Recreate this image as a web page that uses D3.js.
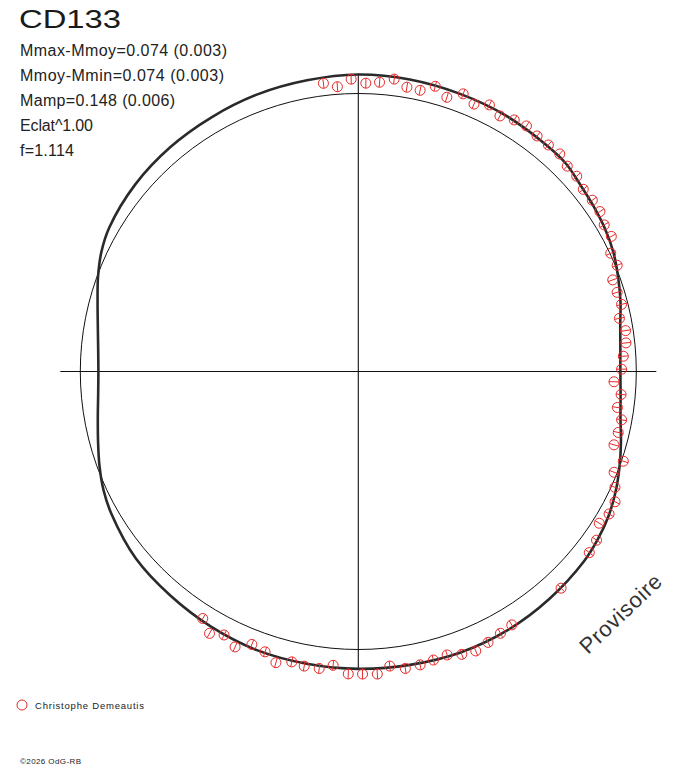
<!DOCTYPE html>
<html>
<head>
<meta charset="utf-8">
<script src="https://cdn.jsdelivr.net/npm/d3@7"></script>
<style>
  body { margin: 0; background: #fff; }
  svg { display: block; font-family: "Liberation Sans", Arial, sans-serif; }
</style>
</head>
<body>
<div id="chart"></div>
<script>
// DATA ------------------------------
const starName = "CD133";
const infoLines = ["Mmax-Mmoy=0.074 (0.003)", "Mmoy-Mmin=0.074 (0.003)", "Mamp=0.148 (0.006)", "Eclat^1.00", "f=1.114"];
const observer = "Christophe Demeautis";
const copyright = "©2026 OdG-RB";
const stamp = "Provisoire";

// fitted light curve: phase (degrees, clockwise from top) and magnitude minus mean
const curvePhaseDeg = [0, 10, 20, 30, 40, 45, 50, 55, 60, 65, 70, 75, 80, 85, 90, 95, 100, 105, 110, 115, 120, 125, 130,
  140, 150, 160, 170, 180, 190, 200, 210, 220, 230, 240, 245, 250, 255, 260, 265, 270, 275, 280, 285, 290, 295, 300,
  310, 320, 330, 340, 350];
const curveMag = [-0.072, -0.070, -0.067, -0.066, -0.062, -0.060, -0.046, -0.0365, -0.027, -0.0136, 0.006, 0.026, 0.048, 0.060, 0.064, 0.059, 0.047, 0.024, 0.000, -0.023, -0.042, -0.055, -0.064,
  -0.072, -0.078, -0.079, -0.075, -0.073, -0.071, -0.070, -0.063, -0.055, -0.048, -0.027, -0.012, 0.010, 0.034, 0.054, 0.068, 0.073, 0.068, 0.054, 0.032, 0.004, -0.021, -0.037,
  -0.050, -0.056, -0.059, -0.064, -0.067];

// observations
const obsPhaseDeg = [353.1, 355.8, 358.6, 1.5, 4.2, 7.0, 9.7, 12.4, 15.1, 17.9, 20.7, 23.4, 26.2, 29.0, 31.8, 34.4, 37.2, 40.0,
  42.8, 45.5, 48.2, 51.0, 53.8, 56.5, 59.2, 61.9, 64.9, 67.7, 70.2, 73.0, 75.7, 78.5, 81.3, 83.9, 86.7, 89.5,
  92.3, 95.0, 97.9, 100.4, 103.2, 106.0, 108.7, 111.5, 114.3, 116.9, 119.6, 122.2, 125.3, 128.1, 136.9,
  148.8, 151.5, 154.4, 157.2, 159.9, 162.6, 165.4, 168.1, 171.0, 173.9, 176.4, 179.2, 181.9, 184.9, 187.5,
  190.4, 192.9, 195.8, 198.4, 201.3, 204.1, 207.0, 209.6, 212.2];
const obsMag = [-0.047, -0.029, -0.055, -0.040, -0.046, -0.063, -0.040, -0.038, -0.066, -0.039, -0.071, -0.051, -0.072, -0.054, -0.068, -0.074, -0.067, -0.067,
  -0.070, -0.057, -0.057, -0.044, -0.046, -0.045, -0.032, -0.034, -0.003, -0.007, 0.030, 0.029, 0.025, 0.046, 0.030, 0.035, 0.050, 0.059,
  0.090, 0.057, 0.066, 0.041, 0.044, 0.048, -0.007, 0.012, -0.014, -0.038, -0.040, -0.026, -0.053, -0.059, -0.071,
  -0.069, -0.075, -0.084, -0.094, -0.087, -0.072, -0.076, -0.082, -0.085, -0.069, -0.094, -0.092, -0.092, -0.064, -0.081,
  -0.081, -0.075, -0.092, -0.066, -0.057, -0.089, -0.067, -0.087, -0.053];

// CHART ------------------------------
const width = 688, height = 768;
const cx = 358.3, cy = 371.5;
const red = "#e52a2a";

const svg = d3.select("#chart")
    .append("svg")
    .attr("width", width)
    .attr("height", height);

// brightness (relative flux) -> radius, phase -> angle
const flux = dm => Math.pow(10, -0.4 * dm);
const rScale = d3.scaleLinear().domain([0, 1]).range([0, 278]);
const aScale = d3.scaleLinear().domain([0, 360]).range([0, 2 * Math.PI]);
const axisR = rScale(1.072);

const g = svg.append("g")
    .attr("transform", `translate(${cx},${cy})`);

// axes
g.append("line").attr("x1", -axisR).attr("x2", axisR).attr("y1", 0).attr("y2", 0)
    .attr("stroke", "#111").attr("stroke-width", 1.1);
g.append("line").attr("x1", 0).attr("x2", 0).attr("y1", -axisR).attr("y2", axisR)
    .attr("stroke", "#111").attr("stroke-width", 1.1);

// mean circle
g.append("circle")
    .attr("r", rScale(1))
    .attr("fill", "none")
    .attr("stroke", "#111")
    .attr("stroke-width", 1);

// fitted curve
const curveData = curvePhaseDeg.map((p, i) => ({p: p, m: curveMag[i]}));
const radial = d3.lineRadial()
    .angle(d => aScale(d.p))
    .radius(d => rScale(flux(d.m)))
    .curve(d3.curveCatmullRomClosed.alpha(0.5));

g.append("path")
    .datum(curveData)
    .attr("d", radial)
    .attr("fill", "none")
    .attr("stroke", "#2a2a2a")
    .attr("stroke-width", 2.6);

// observations: small circles with a radial tick
const obs = obsPhaseDeg.map((p, i) => {
    const a = aScale(p), r = rScale(flux(obsMag[i]));
    return {a: a, x: r * Math.sin(a), y: -r * Math.cos(a)};
});
const mk = 5;
const marks = g.selectAll(".obs")
    .data(obs)
    .enter()
    .append("g")
    .attr("class", "obs");
marks.append("circle")
    .attr("cx", d => d.x)
    .attr("cy", d => d.y)
    .attr("r", mk)
    .attr("fill", "none")
    .attr("stroke", red)
    .attr("stroke-width", 1);
marks.append("line")
    .attr("x1", d => d.x - mk * Math.sin(d.a))
    .attr("y1", d => d.y + mk * Math.cos(d.a))
    .attr("x2", d => d.x + mk * Math.sin(d.a))
    .attr("y2", d => d.y - mk * Math.cos(d.a))
    .attr("stroke", red)
    .attr("stroke-width", 1);

// TEXT ------------------------------
svg.append("text")
    .attr("x", 19)
    .attr("y", 28)
    .attr("font-size", 25)
    .attr("fill", "#1a1a1a")
    .attr("textLength", 102)
    .attr("lengthAdjust", "spacingAndGlyphs")
    .text(starName);

const infoLen = [207, 204, 155, 73, 54];
svg.selectAll(".info")
    .data(infoLines)
    .enter()
    .append("text")
    .attr("class", "info")
    .attr("x", 20)
    .attr("y", (d, i) => 56 + i * 25)
    .attr("font-size", 16)
    .attr("fill", "#222")
    .attr("textLength", (d, i) => infoLen[i])
    .text(d => d);

svg.append("circle")
    .attr("cx", 22).attr("cy", 705).attr("r", 5)
    .attr("fill", "none").attr("stroke", red);
svg.append("text")
    .attr("x", 35).attr("y", 709)
    .attr("font-size", 9.5)
    .attr("fill", "#222")
    .attr("textLength", 109)
    .text(observer);

svg.append("text")
    .attr("x", 20).attr("y", 764)
    .attr("font-size", 8)
    .attr("fill", "#222")
    .attr("textLength", 61)
    .text(copyright);

svg.append("text")
    .attr("transform", "translate(588,655) rotate(-43.5)")
    .attr("font-size", 22)
    .attr("fill", "#333")
    .attr("textLength", 104)
    .text(stamp);
</script>
</body>
</html>
